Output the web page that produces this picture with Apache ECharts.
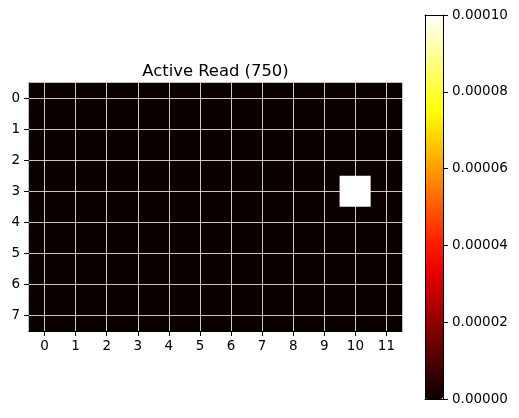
<!DOCTYPE html>
<html><head><meta charset="utf-8">
<script src="https://cdn.jsdelivr.net/npm/echarts@6/dist/echarts.min.js"></script>
<style>html,body{margin:0;padding:0;background:#fff}#c{width:519px;height:418px}</style>
</head><body><div id="c"></div>
<script>
var xLabels = ['0','1','2','3','4','5','6','7','8','9','10','11'];
var yLabels = ['0','1','2','3','4','5','6','7'];
var row0 = [0,0,0,0,0,0,0,0,0,0,0,0];
var row1 = [0,0,0,0,0,0,0,0,0,0,0,0];
var row2 = [0,0,0,0,0,0,0,0,0,0,0,0];
var row3 = [0,0,0,0,0,0,0,0,0,0,0.0001,0];
var row4 = [0,0,0,0,0,0,0,0,0,0,0,0];
var row5 = [0,0,0,0,0,0,0,0,0,0,0,0];
var row6 = [0,0,0,0,0,0,0,0,0,0,0,0];
var row7 = [0,0,0,0,0,0,0,0,0,0,0,0];
var rows = [row0,row1,row2,row3,row4,row5,row6,row7];
var vMin = 0, vMax = 0.0001, vStep = 0.00002;
var hotColors = ['#0b0000','#420000','#7a0000','#b20000','#ea0000','#ff2300','#ff5a00','#ff9200','#ffca00','#ffff04','#ffff58','#ffffab','#ffffff'];

var data = [];
rows.forEach(function(r, y){ r.forEach(function(v, x){ data.push([x, y, v]); }); });

var font = 'DejaVu Sans';
var gridColor = 'rgba(255,255,255,0.78)';
var mlData = [];
xLabels.forEach(function(_, i){ mlData.push({xAxis: i}); });
yLabels.forEach(function(_, i){ mlData.push({yAxis: i}); });

var chart = echarts.init(document.getElementById('c'), null, {renderer:'canvas'});
chart.setOption({
  animation: false,
  backgroundColor: '#ffffff',
  title: {
    text: 'Active Read (750)', left: 210.5, top: 59, textAlign: 'center',
    textStyle: {fontFamily: font, fontSize: 16.4, fontWeight: 'normal', color: '#000'}
  },
  grid: [
    {left: 29, top: 83, width: 373, height: 248, containLabel: false,
     show: true, backgroundColor: hotColors[0], borderWidth: 0},
    {left: 425, top: 15, width: 18, height: 384, containLabel: false}
  ],
  xAxis: [
    {type: 'category', gridIndex: 0, data: xLabels, position: 'bottom',
     axisLine: {show: true, lineStyle: {color: '#000', width: 1}},
     axisTick: {show: true, alignWithLabel: true, length: 5, lineStyle: {color: '#000'}},
     axisLabel: {fontFamily: font, fontSize: 13.5, color: '#000', margin: 8},
     splitLine: {show: false}},
    {type: 'value', gridIndex: 1, min: 0, max: 1, position: 'bottom', z: 10,
     axisLine: {show: true, onZero: false, lineStyle: {color: '#000', width: 1}},
     axisTick: {show: false}, axisLabel: {show: false}, splitLine: {show: false}},
    {type: 'value', gridIndex: 1, min: 0, max: 1, position: 'top', z: 10,
     axisLine: {show: true, onZero: false, lineStyle: {color: '#000', width: 1}},
     axisTick: {show: false}, axisLabel: {show: false}, splitLine: {show: false}}
  ],
  yAxis: [
    {type: 'category', gridIndex: 0, data: yLabels, inverse: true, position: 'left',
     axisLine: {show: true, lineStyle: {color: '#000', width: 1}},
     axisTick: {show: true, alignWithLabel: true, length: 5, lineStyle: {color: '#000'}},
     axisLabel: {fontFamily: font, fontSize: 13.5, color: '#000', margin: 9},
     splitLine: {show: false}},
    {type: 'value', gridIndex: 1, min: vMin, max: vMax, interval: vStep, position: 'right', z: 10,
     axisLine: {show: true, onZero: false, lineStyle: {color: '#000', width: 1}},
     axisTick: {show: true, length: 5, lineStyle: {color: '#000'}},
     axisLabel: {fontFamily: font, fontSize: 13.5, color: '#000', margin: 9,
       formatter: function(v){ return v.toFixed(5); }},
     splitLine: {show: false}},
    {type: 'value', gridIndex: 1, min: vMin, max: vMax, interval: vStep, position: 'left', z: 10,
     axisLine: {show: true, onZero: false, lineStyle: {color: '#000', width: 1}},
     axisTick: {show: false}, axisLabel: {show: false}, splitLine: {show: false}}
  ],
  visualMap: {
    type: 'continuous', min: vMin, max: vMax, seriesIndex: 0, dimension: 2,
    calculable: false, orient: 'vertical', left: 425, top: 15, padding: 0,
    itemWidth: 18, itemHeight: 384, text: null, showLabel: false, hoverLink: false,
    inRange: {color: hotColors}
  },
  series: [{
    type: 'heatmap', xAxisIndex: 0, yAxisIndex: 0, data: data,
    itemStyle: {borderWidth: 0},
    emphasis: {disabled: true},
    markLine: {
      silent: true, symbol: 'none', animation: false,
      label: {show: false},
      lineStyle: {color: gridColor, width: 1, type: 'solid'},
      emphasis: {disabled: true},
      data: mlData
    }
  }]
});
</script>
</body></html>
